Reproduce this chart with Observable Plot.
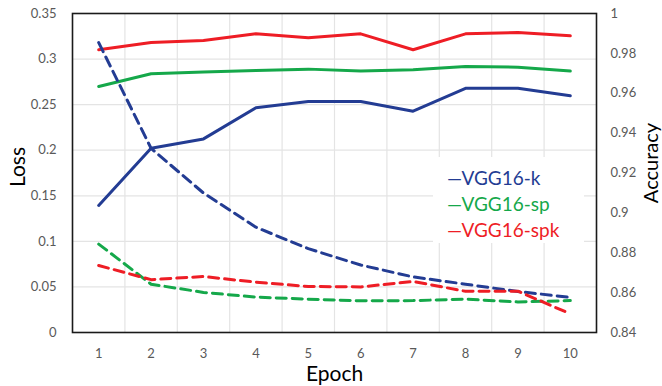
<!DOCTYPE html>
<html>
<head>
<meta charset="utf-8">
<script src="https://cdn.jsdelivr.net/npm/d3@7"></script>
<script src="https://cdn.jsdelivr.net/npm/@observablehq/plot@0.6"></script>
<style>
  html, body { margin: 0; padding: 0; background: white; }
  #wrap { position: relative; width: 662px; height: 386px; font-family: Lato, "Open Sans", sans-serif; }
  #legend { position: absolute; left: 433px; top: 157px; width: 151px; height: 86px; background: white; }
  .item { position: absolute; left: 14px; font-size: 19px; line-height: 26px; white-space: nowrap; }
</style>
</head>
<body>
<div id="wrap"></div>
<script>
const epochs = [1, 2, 3, 4, 5, 6, 7, 8, 9, 10];
const seriesNames = ["VGG16-k", "VGG16-sp", "VGG16-spk"];
const seriesColors = ["#233C93", "#15A84A", "#EE1D25"];
// Loss (left axis, dashed)
const lossK   = [0.318, 0.202, 0.153, 0.1155, 0.092, 0.074, 0.061, 0.053, 0.045, 0.0385];
const lossSp  = [0.097, 0.053, 0.044, 0.0388, 0.0366, 0.0347, 0.035, 0.0366, 0.0335, 0.035];
const lossSpk = [0.0735, 0.058, 0.0614, 0.0552, 0.0505, 0.050, 0.056, 0.0452, 0.0453, 0.0205];
// Accuracy (right axis, solid)
const accK   = [0.9037, 0.9324, 0.9371, 0.9527, 0.9559, 0.9559, 0.951, 0.9625, 0.9625, 0.9587];
const accSp  = [0.9634, 0.9698, 0.9706, 0.9714, 0.9721, 0.9711, 0.9718, 0.9734, 0.9731, 0.9711];
const accSpk = [0.9818, 0.9855, 0.9865, 0.9898, 0.9878, 0.9898, 0.9818, 0.9898, 0.9905, 0.9888];
// tick labels
const lossTicks = [0, 0.05, 0.1, 0.15, 0.2, 0.25, 0.3, 0.35];
const accTicks = [0.84, 0.86, 0.88, 0.9, 0.92, 0.94, 0.96, 0.98, 1];

const lossDomain = [0, 0.35];
const accDomain = [0.84, 1];
const toLoss = a => lossDomain[0] + (a - accDomain[0]) / (accDomain[1] - accDomain[0]) * (lossDomain[1] - lossDomain[0]);
const fromLoss = l => accDomain[0] + (l - lossDomain[0]) / (lossDomain[1] - lossDomain[0]) * (accDomain[1] - accDomain[0]);

const lossSeries = [lossK, lossSp, lossSpk];
const accSeries = [accK, accSp, accSpk];
const boundaries = epochs.slice(0, -1).map(e => e + 0.5);

const marks = [
  Plot.ruleY(lossTicks, {stroke: "#e4e4e4", strokeWidth: 1.2}),
  Plot.ruleX(boundaries, {stroke: "#e4e4e4", strokeWidth: 1.2}),
];
accSeries.forEach((s, i) => {
  marks.push(Plot.lineY(s, {x: epochs, y: d => toLoss(d), stroke: seriesColors[i], strokeWidth: 3}));
});
lossSeries.forEach((s, i) => {
  marks.push(Plot.lineY(s, {x: epochs, y: d => d, stroke: seriesColors[i], strokeWidth: 3, strokeDasharray: "10,6"}));
});
marks.push(
  Plot.frame({stroke: "#1a1a1a", strokeWidth: 1.6}),
  Plot.axisY(lossTicks, {anchor: "left", tickSize: 0, tickPadding: 16, label: null, tickFormat: d => String(d)}),
  Plot.axisY(accTicks.map(toLoss), {anchor: "right", tickSize: 0, tickPadding: 14, label: null, tickFormat: d => String(+fromLoss(d).toFixed(2))}),
  Plot.axisX(epochs, {tickSize: 0, tickPadding: 16, label: null, tickFormat: d => String(d)}),
  Plot.text(["Loss"], {frameAnchor: "left", textAnchor: "middle", lineAnchor: "middle", dx: -54, dy: -6, rotate: -90, fontSize: 21, fill: "black"}),
  Plot.text(["Accuracy"], {frameAnchor: "right", textAnchor: "middle", lineAnchor: "middle", dx: 55, dy: -10, rotate: -90, fontSize: 20, fill: "black"}),
  Plot.text(["Epoch"], {frameAnchor: "bottom", textAnchor: "middle", lineAnchor: "middle", dy: 42, fontSize: 21, fill: "black"})
);

const chart = Plot.plot({
  width: 662,
  height: 386,
  marginLeft: 72,
  marginRight: 66,
  marginTop: 13,
  marginBottom: 54,
  x: {domain: [0.5, 10.5]},
  y: {domain: lossDomain},
  style: {fontFamily: "Lato, 'Open Sans', sans-serif", fontSize: "13px", color: "#595959", background: "white"},
  marks
});

const wrap = document.getElementById("wrap");
wrap.appendChild(chart);
const legend = document.createElement("div");
legend.id = "legend";
seriesNames.forEach((n, i) => {
  const it = document.createElement("div");
  it.className = "item";
  it.style.top = (8 + i * 26) + "px";
  it.style.color = seriesColors[i];
  it.textContent = "\u2014" + n;
  legend.appendChild(it);
});
wrap.appendChild(legend);
</script>
</body>
</html>
